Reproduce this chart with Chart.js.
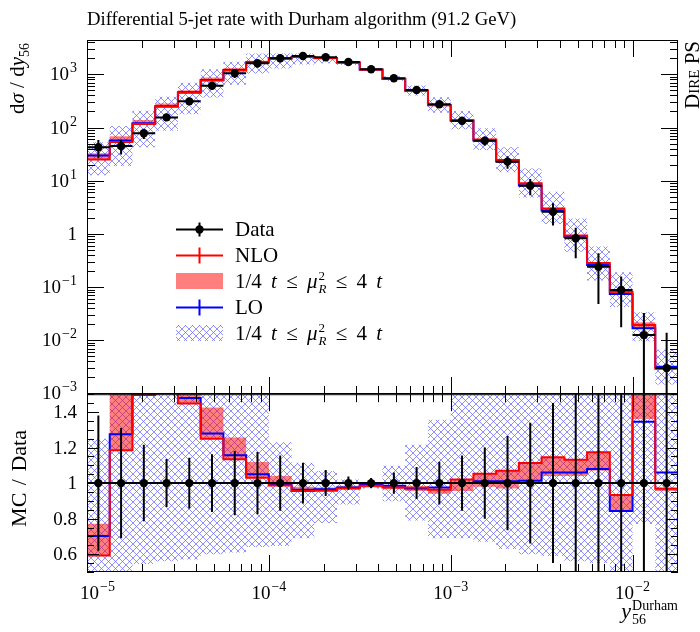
<!DOCTYPE html>
<html>
<head>
<meta charset="utf-8">
<script src="https://cdn.jsdelivr.net/npm/chart.js@4.4.1/dist/chart.umd.min.js"></script>
<style>
  body { margin: 0; background: #fff; }
  #wrap { position: relative; width: 700px; height: 632px; overflow: hidden; font-family: "Liberation Serif", serif; color: #000; }
  canvas { position: absolute; left: 0; }
  .lbl { position: absolute; white-space: nowrap; }
  .rot { transform-origin: 0 0; transform: rotate(-90deg); text-align: right; }
  .leg { left: 235px; font-size: 21px; line-height: 24px; word-spacing: 4px; }
  .ss { display: inline-block; vertical-align: -5px; font-size: 13px; line-height: 13px; margin-left: 1px; word-spacing: 0; }
</style>
</head>
<body>
<div id="wrap">
  <canvas id="mainChart" width="700" height="400" style="top:0"></canvas>
  <canvas id="ratioChart" width="700" height="242" style="top:390px"></canvas>

  <div class="lbl" style="left:87px; top:8px; font-size:18.7px;">Differential 5-jet rate with Durham algorithm (91.2 GeV)</div>
  <div class="lbl rot" style="left:5px; top:163px; width:120px; font-size:21px; line-height:24px;">d<i>σ</i> / d<i>y</i><sub style="font-size:14px">56</sub></div>
  <div class="lbl rot" style="left:7px; top:560px; width:130px; font-size:22px; line-height:24px; word-spacing:2px;">MC / Data</div>
  <div class="lbl rot" style="left:682px; top:121px; width:80px; font-size:21px; line-height:20px; font-variant:small-caps;">Dire PS</div>
  <div class="lbl" style="right:22px; top:598px; font-size:22px; line-height:26px;"><i>y</i><span class="ss" style="font-size:14px; line-height:14px; vertical-align:-6px">Durham<br>56</span></div>

  <div class="lbl leg" style="top:217px">Data</div>
  <div class="lbl leg" style="top:243px">NLO</div>
  <div class="lbl leg" style="top:269px">1/4 <i>t</i> ≤ <i>μ</i><span class="ss">2<br><i>R</i></span> ≤ 4 <i>t</i></div>
  <div class="lbl leg" style="top:295px">LO</div>
  <div class="lbl leg" style="top:321px">1/4 <i>t</i> ≤ <i>μ</i><span class="ss">2<br><i>R</i></span> ≤ 4 <i>t</i></div>
</div>

<script>
// y56 Durham bins, 8 per decade
const binEdges = [1.0e-5, 1.3335e-5, 1.7783e-5, 2.3714e-5, 3.1623e-5, 4.2170e-5, 5.6234e-5, 7.4989e-5,
  1.0e-4, 1.3335e-4, 1.7783e-4, 2.3714e-4, 3.1623e-4, 4.2170e-4, 5.6234e-4, 7.4989e-4,
  1.0e-3, 1.3335e-3, 1.7783e-3, 2.3714e-3, 3.1623e-3, 4.2170e-3, 5.6234e-3, 7.4989e-3,
  1.0e-2, 1.3335e-2, 1.7783e-2];

// measured d sigma / d y56 and its relative uncertainty
const dataVals = [42.4, 44.9, 77.8, 155, 310, 611, 1045, 1611, 2000, 2207, 2090, 1702, 1241,
  841, 507, 273, 134, 56.5, 22.8, 8.05, 2.61, 0.826, 0.241, 0.088, 0.0125, 0.0030];
const dataErr = [0.38, 0.31, 0.215, 0.135, 0.143, 0.162, 0.181, 0.175, 0.155, 0.115, 0.073, 0.037, 0.028,
  0.06, 0.09, 0.12, 0.155, 0.2, 0.265, 0.34, 0.45, 0.58, 0.8, 0.8, 1.6, 3.6];

// MC / Data
const nloRatio = [0.593, 1.185, 1.495, 1.58, 1.448, 1.25, 1.134, 1.03, 0.987, 0.955, 0.957, 0.97, 0.985,
  0.975, 0.975, 0.962, 1.02, 1.053, 1.07, 1.113, 1.145, 1.132, 1.173, 0.933, 1.55, 0.968];
const nloBandLow = [0.59, 1.185, 1.49, 1.58, 1.448, 1.25, 1.134, 1.03, 0.985, 0.955, 0.955, 0.965, 0.975,
  0.965, 0.955, 0.94, 0.955, 0.98, 0.97, 1.01, 1.04, 1.04, 1.07, 0.843, 1.36, 0.955];
const nloBandHigh = [0.772, 1.52, 1.78, 1.82, 1.62, 1.425, 1.257, 1.119, 1.04, 0.98, 0.975, 0.985, 0.99,
  0.985, 0.98, 0.97, 1.02, 1.053, 1.07, 1.113, 1.145, 1.132, 1.173, 0.933, 1.75, 0.975];
const loRatio = [0.702, 1.275, 1.55, 1.62, 1.478, 1.279, 1.156, 1.05, 0.99, 0.962, 0.966, 0.975, 0.99,
  0.985, 0.97, 0.975, 1.0, 1.01, 1.01, 1.013, 1.06, 1.06, 1.08, 0.843, 1.345, 1.06];
const loBandLow = [0.3, 0.42, 0.545, 0.56, 0.57, 0.6, 0.61, 0.64, 0.646, 0.69, 0.776, 0.88, 0.97,
  0.898, 0.79, 0.69, 0.69, 0.67, 0.63, 0.6, 0.59, 0.56, 0.55, 0.48, 0.77, 0.49];
const loBandHigh = [1.25, 2.38, 2.66, 2.44, 2.24, 2.03, 1.65, 1.52, 1.23, 1.115, 1.068, 1.02, 1.0,
  1.098, 1.216, 1.357, 1.52, 1.71, 1.87, 2.1, 2.38, 2.35, 2.4, 2.16, 2.7, 2.2];

// axes
const xMin = 1.0e-5, xMax = 1.7783e-2;
const xTickValues = [1e-5, 1e-4, 1e-3, 1e-2];
const xTickLabels = [['10', '−5'], ['10', '−4'], ['10', '−3'], ['10', '−2']];
const yMin = 9.77e-4, yMax = 4416;
const yTickValues = [1e-3, 1e-2, 1e-1, 1, 10, 100, 1000];
const yTickLabels = [['10', '−3'], ['10', '−2'], ['10', '−1'], ['1', ''], ['10', '1'], ['10', '2'], ['10', '3']];
const ratioTickValues = [0.6, 0.8, 1.0, 1.2, 1.4];
const ratioTickLabels = [['0.6', ''], ['0.8', ''], ['1', ''], ['1.2', ''], ['1.4', '']];

const binCenters = dataVals.map((v, i) => Math.sqrt(binEdges[i] * binEdges[i + 1]));

function minorLog(majors, lo, hi) {
  const out = [];
  majors.concat([majors[0] / 10]).forEach(d => {
    for (let m = 2; m <= 9; m++) if (m * d >= lo && m * d <= hi) out.push(m * d);
  });
  return out;
}
const xMinor = minorLog(xTickValues, xMin, xMax);
const yMinor = minorLog(yTickValues, yMin, yMax);
const ratioMinor = [];
for (let k = 10; k <= 30; k++) { if (k % 4 !== 0) ratioMinor.push(k * 0.05); }

function steps(vals) {
  const pts = vals.map((v, i) => ({ x: binEdges[i], y: v }));
  pts.push({ x: binEdges[vals.length], y: vals[vals.length - 1] });
  return pts;
}
const times = (r) => r.map((v, i) => v * dataVals[i]);

function makeHatch() {
  const c = document.createElement('canvas');
  c.width = 7; c.height = 7;
  const g = c.getContext('2d');
  g.strokeStyle = 'rgba(95,95,255,0.7)';
  g.lineWidth = 1;
  g.beginPath();
  g.moveTo(-1, -1); g.lineTo(8, 8);
  g.moveTo(8, -1); g.lineTo(-1, 8);
  g.stroke();
  return g.createPattern(c, 'repeat');
}
const hatch = makeHatch();
const bandRed = 'rgba(255,0,0,0.5)';

function datasets(dataY, nlo, nloLo, nloHi, lo, loLo, loHi) {
  const line = (d, color) => ({ data: steps(d), stepped: 'before', borderColor: color, borderWidth: 2, pointRadius: 0, fill: false });
  const edge = (d, fill, bg) => ({ data: steps(d), stepped: 'before', borderWidth: 0, pointRadius: 0, fill: fill, backgroundColor: bg });
  return [
    { data: binCenters.map((x, i) => ({ x: x, y: dataY[i] })), showLine: false, pointRadius: 4.2, pointBackgroundColor: '#000', pointBorderWidth: 0 },
    line(nlo, '#ff0000'),
    line(lo, '#0000ff'),
    edge(nloHi, '+1', bandRed),
    edge(nloLo, false, 'transparent'),
    edge(loHi, '+1', hatch),
    edge(loLo, false, 'transparent')
  ];
}

function drawLabel(ctx, base, exp, x, y, align) {
  ctx.font = '19px "Liberation Serif"';
  const bw = ctx.measureText(base).width;
  ctx.font = '14px "Liberation Serif"';
  const ew = exp ? ctx.measureText(exp).width + 1 : 0;
  const total = bw + ew;
  const left = align === 'right' ? x - total : Math.max(x - total / 2, 80);
  ctx.fillStyle = '#000';
  ctx.textAlign = 'left';
  ctx.textBaseline = 'alphabetic';
  ctx.font = '19px "Liberation Serif"';
  ctx.fillText(base, left, y);
  if (exp) {
    ctx.font = '14px "Liberation Serif"';
    ctx.fillText(exp, left + bw + 1, y - 8);
  }
}

const axisFrame = {
  id: 'axisFrame',
  afterDraw(chart, args, o) {
    const { ctx, chartArea: a } = chart;
    const xs = chart.scales.x, ys = chart.scales.y;
    ctx.save();
    ctx.strokeStyle = '#000';
    ctx.lineWidth = 1;
    ctx.beginPath();
    const xt = (v, len) => {
      const p = Math.round(xs.getPixelForValue(v)) + 0.5;
      ctx.moveTo(p, a.bottom); ctx.lineTo(p, a.bottom - len);
      ctx.moveTo(p, a.top); ctx.lineTo(p, a.top + len);
    };
    const yt = (v, len) => {
      const p = Math.round(ys.getPixelForValue(v)) + 0.5;
      ctx.moveTo(a.left, p); ctx.lineTo(a.left + len, p);
      ctx.moveTo(a.right, p); ctx.lineTo(a.right - len, p);
    };
    xTickValues.forEach(v => xt(v, o.xMajorLen));
    xMinor.forEach(v => xt(v, o.xMinorLen));
    o.yMajor.forEach(v => yt(v, o.yMajorLen));
    o.yMinor.forEach(v => yt(v, o.yMinorLen));
    ctx.stroke();
    ctx.strokeRect(a.left + 0.5, a.top + 0.5, a.right - a.left - 1, a.bottom - a.top - 1);
    o.yMajor.forEach((v, i) => drawLabel(ctx, o.yLabels[i][0], o.yLabels[i][1], 77, ys.getPixelForValue(v) + 6, 'right'));
    if (o.xLabels) {
      xTickValues.forEach((v, i) => drawLabel(ctx, xTickLabels[i][0], xTickLabels[i][1], xs.getPixelForValue(v), a.bottom + 27, 'center'));
    }
    ctx.restore();
  }
};

const dataErrors = {
  id: 'dataErrors',
  afterDatasetsDraw(chart, args, o) {
    const { ctx, chartArea: a, scales: { x, y } } = chart;
    ctx.save();
    ctx.beginPath();
    ctx.rect(a.left, a.top, a.right - a.left, a.bottom - a.top);
    ctx.clip();
    ctx.strokeStyle = '#000';
    ctx.lineWidth = 2;
    ctx.beginPath();
    o.values.forEach((v, i) => {
      const py = y.getPixelForValue(v);
      ctx.moveTo(x.getPixelForValue(binEdges[i]), py);
      ctx.lineTo(x.getPixelForValue(binEdges[i + 1]), py);
      const cx = x.getPixelForValue(binCenters[i]);
      const lo = v * (1 - dataErr[i]), hi = v * (1 + dataErr[i]);
      ctx.moveTo(cx, lo > 0 ? y.getPixelForValue(lo) : a.bottom + 2);
      ctx.lineTo(cx, y.getPixelForValue(hi));
    });
    ctx.stroke();
    ctx.restore();
  }
};

const legendKeys = {
  id: 'legendKeys',
  afterDraw(chart) {
    const ctx = chart.ctx;
    const x0 = 176, x1 = 223, xm = 199.5;
    ctx.save();
    ctx.lineWidth = 2;
    const lineKey = (y, color, tick) => {
      ctx.strokeStyle = color;
      ctx.beginPath();
      ctx.moveTo(x0, y); ctx.lineTo(x1, y);
      ctx.moveTo(xm, y - tick); ctx.lineTo(xm, y + tick);
      ctx.stroke();
    };
    lineKey(229.5, '#000', 7);
    ctx.fillStyle = '#000';
    ctx.beginPath(); ctx.arc(xm, 229.5, 4.2, 0, Math.PI * 2); ctx.fill();
    lineKey(255.5, '#ff0000', 8);
    ctx.fillStyle = bandRed;
    ctx.fillRect(x0, 273, x1 - x0, 16);
    lineKey(307.5, '#0000ff', 8);
    ctx.fillStyle = hatch;
    ctx.fillRect(x0, 325, x1 - x0, 16);
    ctx.restore();
  }
};

Chart.defaults.font.family = '"Liberation Serif", serif';

const hideX = { type: 'logarithmic', min: xMin, max: xMax, ticks: { display: false }, grid: { display: false }, border: { display: false } };

new Chart(document.getElementById('mainChart'), {
  type: 'line',
  data: { datasets: datasets(dataVals, times(nloRatio), times(nloBandLow), times(nloBandHigh), times(loRatio), times(loBandLow), times(loBandHigh)) },
  options: {
    responsive: false, animation: false, devicePixelRatio: 1,
    layout: { padding: { top: 40, right: 22, bottom: 6, left: 0 } },
    plugins: {
      legend: { display: false }, tooltip: { enabled: false },
      dataErrors: { values: dataVals },
      axisFrame: { yMajor: yTickValues, yMinor: yMinor, yLabels: yTickLabels, yMajorLen: 17, yMinorLen: 8, xMajorLen: 17, xMinorLen: 8, xLabels: false }
    },
    scales: {
      x: Object.assign({}, hideX, { afterFit: s => { s.height = 0; } }),
      y: { type: 'logarithmic', min: yMin, max: yMax, ticks: { display: false }, grid: { display: false }, border: { display: false }, afterFit: s => { s.width = 87; } }
    }
  },
  plugins: [dataErrors, axisFrame, legendKeys]
});

new Chart(document.getElementById('ratioChart'), {
  type: 'line',
  data: { datasets: datasets(dataVals.map(() => 1), nloRatio, nloBandLow, nloBandHigh, loRatio, loBandLow, loBandHigh) },
  options: {
    responsive: false, animation: false, devicePixelRatio: 1,
    layout: { padding: { top: 4, right: 22, bottom: 0, left: 0 } },
    plugins: {
      legend: { display: false }, tooltip: { enabled: false },
      dataErrors: { values: dataVals.map(() => 1) },
      axisFrame: { yMajor: ratioTickValues, yMinor: ratioMinor, yLabels: ratioTickLabels, yMajorLen: 12, yMinorLen: 7, xMajorLen: 17, xMinorLen: 8, xLabels: true }
    },
    scales: {
      x: Object.assign({}, hideX, { afterFit: s => { s.height = 60; } }),
      y: { type: 'linear', min: 0.5, max: 1.5, ticks: { display: false }, grid: { display: false }, border: { display: false }, afterFit: s => { s.width = 87; } }
    }
  },
  plugins: [dataErrors, axisFrame]
});
</script>
</body>
</html>
